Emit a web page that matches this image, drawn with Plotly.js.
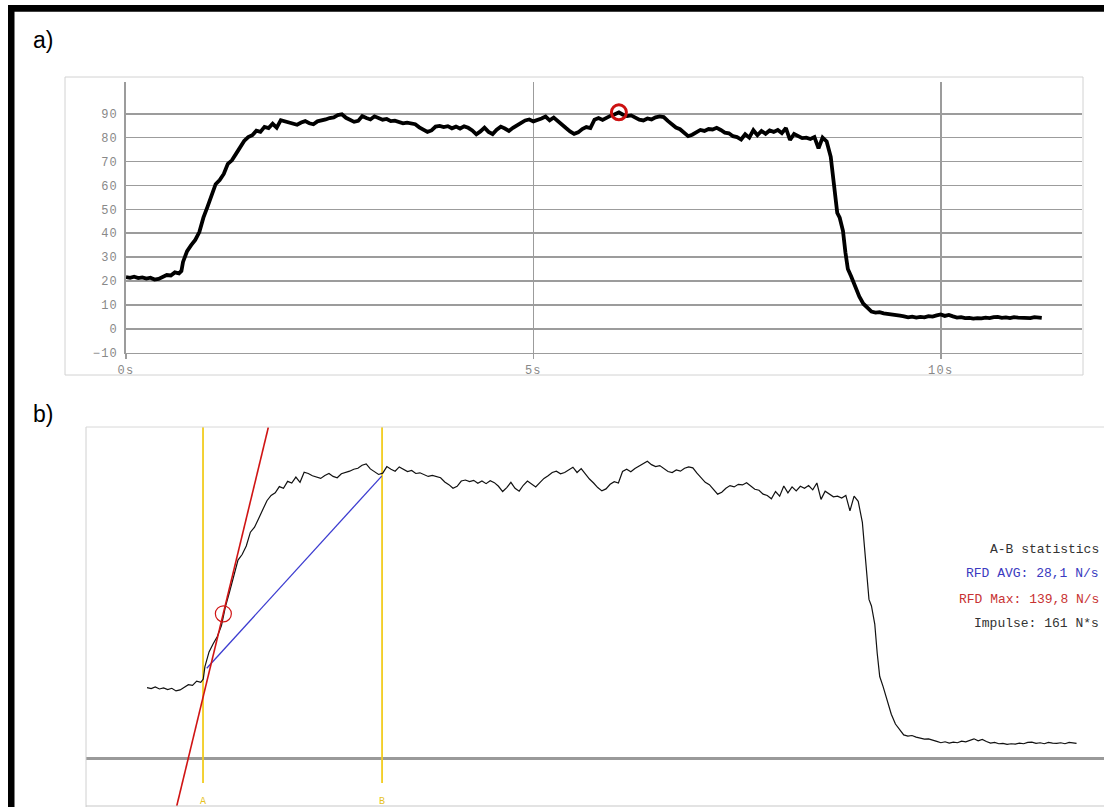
<!DOCTYPE html>
<html><head><meta charset="utf-8">
<script src="https://cdn.plot.ly/plotly-3.0.1.min.js"></script>
<style>
html,body{margin:0;padding:0;background:#fff;}
#chart{width:1104px;height:807px;}
.xtick text,.ytick text{letter-spacing:1.2px;}
</style></head><body><div id="chart"></div>
<script>
// ---- data ----
const time = [
 0,0.05,0.10,0.15,0.20,0.25,0.30,0.35,0.40,0.45,0.50,0.55,0.60,0.65,
 0.68,0.70,
 0.75,0.80,0.85,0.90,0.95,
 1.00,1.05,1.10,1.15,1.20,1.25,1.30,1.35,1.40,1.45,1.50,1.55,1.60,1.65,1.70,1.75,1.80,1.85,1.90,1.95,
 2.00,2.05,2.10,2.15,2.20,2.25,2.30,2.35,2.40,2.45,2.50,2.55,2.60,2.65,2.70,2.75,2.80,2.85,2.90,2.95,
 3.00,3.05,3.10,3.15,3.20,3.25,3.30,3.35,3.40,3.45,3.50,3.55,3.60,3.65,3.70,3.75,3.80,3.85,3.90,3.95,
 4.00,4.05,4.10,4.15,4.20,4.25,4.30,4.35,4.40,4.45,4.50,4.55,4.60,4.65,4.70,4.75,4.80,4.85,4.90,4.95,
 5.00,5.05,5.10,5.15,5.20,5.25,5.30,5.35,5.40,5.45,5.50,5.55,5.60,5.65,5.70,5.75,5.80,5.85,5.90,5.95,
 6.00,6.05,6.10,6.15,6.20,6.25,6.30,6.35,6.40,6.45,6.50,6.55,6.60,6.65,6.70,6.75,6.80,6.85,6.90,6.95,
 7.00,7.05,7.10,7.15,7.20,7.25,7.30,7.35,7.40,7.45,7.50,7.55,7.60,7.65,7.70,7.75,7.80,7.85,7.90,7.95,
 8.00,8.05,8.10,8.15,8.20,8.25,8.30,8.35,8.40,8.45,8.50,8.55,8.60,8.65,
 8.67,8.70,8.73,8.76,8.80,8.83,8.86,8.90,
 8.95,
 9.00,9.05,9.10,9.15,9.20,9.25,9.30,9.35,9.40,9.45,9.50,9.55,9.60,9.65,9.70,9.75,9.80,9.85,9.90,9.95,
 10.00,10.05,10.10,10.15,10.20,10.25,10.30,10.35,10.40,10.45,10.50,10.55,10.60,10.65,10.70,10.75,10.80,10.85,10.90,10.95,
 11.00,11.05,11.10,11.15,11.20,11.24
];
const force = [
 21.6,21.3,21.8,21.2,21.5,21.0,21.4,20.6,20.9,21.8,22.5,22.3,23.6,23.2,
 24.2,28.0,
 32.5,35.0,37.2,40.5,46.5,
 51.0,55.8,60.5,62.2,64.8,69.0,70.5,73.2,75.8,78.6,80.2,81.0,82.9,82.4,84.5,84.0,85.8,84.2,87.3,86.9,
 86.2,85.9,85.4,86.3,86.9,86.0,85.6,86.8,87.1,87.6,88.2,88.5,89.4,89.8,88.3,87.4,86.6,87.0,89.0,88.2,
 87.6,88.9,88.3,87.5,87.8,86.9,87.1,86.6,86.0,86.3,86.0,85.6,84.3,83.5,82.4,83.0,84.6,84.9,84.4,84.8,
 83.9,84.6,83.8,84.7,84.1,83.0,81.4,82.6,84.2,82.4,81.5,83.3,84.6,83.8,82.8,84.1,85.4,86.2,87.2,87.6,
 86.8,87.2,88.0,88.8,87.2,88.4,86.8,85.2,84.0,82.6,81.6,82.2,83.6,84.4,84.0,87.5,88.2,87.4,88.4,89.2,
 89.8,90.6,89.6,89.0,89.3,88.4,87.5,87.2,88.0,87.6,88.5,88.9,88.6,87.0,85.5,84.2,83.5,82.1,80.6,81.2,
 82.4,83.2,82.8,83.6,83.4,84.1,83.2,82.1,81.8,80.6,80.2,79.2,81.4,80.0,83.1,81.0,82.8,81.6,83.0,82.4,
 83.2,81.9,84.0,79.0,81.5,80.6,79.8,80.0,79.4,80.2,75.5,80.0,78.4,72.0,
 66.0,58.0,48.5,46.5,41.0,32.0,25.0,22.0,
 17.5,
 13.5,10.5,8.8,7.2,6.8,7.0,6.5,6.3,5.9,6.0,5.5,5.2,4.8,5.1,4.7,5.0,4.8,5.3,5.1,5.6,
 6.0,5.4,5.8,5.2,4.7,4.9,4.5,4.6,4.3,4.5,4.4,4.7,4.5,4.9,5.0,4.6,4.8,4.5,4.9,4.7,
 4.6,4.8,4.5,4.9,4.7,4.6
];
const xTickVals = [0, 5, 10];
const xTickText = ['0s', '5s', '10s'];
const yTickVals = [-10, 0, 10, 20, 30, 40, 50, 60, 70, 80, 90];
const markerATime = 0.677;
const markerBTime = 2.842;
const rfdAvgTime = [0.722, 2.838];
const rfdAvgForce = [27.5, 86.1];
const rfdMaxTime = [0.359, 1.467];
const rfdMaxForce = [-14.5, 101.0];
const rfdMaxPointTime = [0.923];
const rfdMaxPointForce = [44.1];
const statsText = ['A-B statistics', 'RFD AVG: 28,1 N/s', 'RFD Max: 139,8 N/s', 'Impulse: 161 N*s'];

// ---- layout helpers (pixel -> paper) ----
const W = 1104, H = 807;
const px = X => X / W;
const py = Y => 1 - Y / H;

let iMax = 0;
force.forEach((v, i) => { if (v > force[iMax]) iMax = i; });

const gridC = '#9c9c9c';
const tickFont = {family: 'Liberation Mono, DejaVu Sans Mono, monospace', size: 12, color: '#888888'};

const traces = [
  {x: time, y: force, xaxis: 'x', yaxis: 'y', mode: 'lines',
   line: {color: '#000', width: 3.8}, hoverinfo: 'skip'},
  {x: [time[iMax]], y: [force[iMax]], xaxis: 'x', yaxis: 'y', mode: 'markers',
   marker: {symbol: 'circle-open', size: 15, color: '#cc1111', line: {width: 3, color: '#cc1111'}}},
  {x: time, y: force, xaxis: 'x2', yaxis: 'y2', mode: 'lines',
   line: {color: '#111', width: 1.2}},
  {x: rfdAvgTime, y: rfdAvgForce, xaxis: 'x2', yaxis: 'y2', mode: 'lines',
   line: {color: '#3c3cd0', width: 1.3}},
  {x: rfdMaxTime, y: rfdMaxForce, xaxis: 'x2', yaxis: 'y2', mode: 'lines',
   line: {color: '#d01414', width: 1.6}},
  {x: rfdMaxPointTime, y: rfdMaxPointForce, xaxis: 'x2', yaxis: 'y2', mode: 'markers',
   marker: {symbol: 'circle-open', size: 16, color: '#d01414', line: {width: 1.2, color: '#d01414'}}}
];

const shapes = [
  {type: 'rect', xref: 'paper', yref: 'paper', x0: px(8), x1: 1.02, y0: py(11.7), y1: py(5),
   fillcolor: '#000', line: {width: 0}},
  {type: 'rect', xref: 'paper', yref: 'paper', x0: px(8), x1: px(14.5), y0: -0.02, y1: py(5),
   fillcolor: '#000', line: {width: 0}},
  {type: 'rect', xref: 'paper', yref: 'paper', x0: px(65), x1: px(1083), y0: py(375), y1: py(77),
   line: {color: '#d2d2d2', width: 1}, layer: 'below'},
  {type: 'line', xref: 'paper', yref: 'paper', x0: px(86), x1: px(86), y0: 0, y1: py(427),
   line: {color: '#d0d0d0', width: 1}},
  {type: 'line', xref: 'paper', yref: 'paper', x0: px(86), x1: 1, y0: py(427), y1: py(427),
   line: {color: '#d8d8d8', width: 1}},
  {type: 'line', xref: 'paper', yref: 'paper', x0: px(86), x1: 1, y0: py(806), y1: py(806),
   line: {color: '#c8c8c8', width: 1.2}},
  {type: 'line', xref: 'paper', yref: 'y2', x0: px(86), x1: 1, y0: 0, y1: 0,
   line: {color: '#9a9a9a', width: 3}, layer: 'below'},
  {type: 'line', xref: 'x2', yref: 'paper', x0: markerATime, x1: markerATime, y0: py(783), y1: py(427),
   line: {color: '#f2cc1f', width: 1.8}, layer: 'below'},
  {type: 'line', xref: 'x2', yref: 'paper', x0: markerBTime, x1: markerBTime, y0: py(783), y1: py(427),
   line: {color: '#f2cc1f', width: 1.8}, layer: 'below'}
];

const monoFam = 'Courier New, Liberation Mono, DejaVu Sans Mono, monospace';
const statColors = ['#333333', '#3a3ac0', '#c83232', '#333333'];
const statY = [549, 573.5, 599, 623.5];
const annotations = [
  {text: 'a)', xref: 'paper', yref: 'paper', x: px(31), y: py(40), xanchor: 'left', yanchor: 'middle',
   showarrow: false, font: {family: 'Liberation Sans, Arial, sans-serif', size: 23, color: '#000'}},
  {text: 'b)', xref: 'paper', yref: 'paper', x: px(31), y: py(414), xanchor: 'left', yanchor: 'middle',
   showarrow: false, font: {family: 'Liberation Sans, Arial, sans-serif', size: 23, color: '#000'}},
  {text: 'A', xref: 'x2', yref: 'paper', x: markerATime, y: py(801), xanchor: 'center', yanchor: 'middle',
   showarrow: false, font: {family: monoFam, size: 10, color: '#e6c21c'}},
  {text: 'B', xref: 'x2', yref: 'paper', x: markerBTime, y: py(801), xanchor: 'center', yanchor: 'middle',
   showarrow: false, font: {family: monoFam, size: 10, color: '#e6c21c'}}
];
statsText.forEach((s, i) => annotations.push({
  text: s, xref: 'paper', yref: 'paper', x: px(1101), y: py(statY[i]), xanchor: 'right', yanchor: 'middle',
  showarrow: false, font: {family: monoFam, size: 13, color: statColors[i]}
}));

const layout = {
  width: W, height: H, autosize: false,
  margin: {l: 0, r: 0, t: 0, b: 0, pad: 0},
  paper_bgcolor: '#fff', plot_bgcolor: 'rgba(0,0,0,0)',
  showlegend: false,
  xaxis: {domain: [px(126), px(1082)], range: [0, 11.734], anchor: 'y',
    tickvals: xTickVals, ticktext: xTickText, showgrid: true, gridcolor: gridC, gridwidth: 1.6,
    ticks: 'outside', ticklen: 5, tickwidth: 1.6, tickcolor: gridC,
    showline: true, linecolor: gridC, linewidth: 1.6, zeroline: false, tickfont: tickFont, fixedrange: true},
  yaxis: {domain: [py(352.7), py(81.7)], range: [-10, 103.4], anchor: 'x',
    tickvals: yTickVals, showgrid: true, gridcolor: gridC, gridwidth: 1.6,
    ticks: '', showline: true, linecolor: gridC, linewidth: 1.6, zeroline: false,
    tickfont: tickFont, ticklabelstandoff: 4, fixedrange: true},
  xaxis2: {domain: [px(86), 1], range: [-0.738, 11.572], anchor: 'y2', visible: false, fixedrange: true},
  yaxis2: {domain: [0, py(427)], range: [-14.79, 101.07], anchor: 'x2', visible: false, fixedrange: true},
  shapes: shapes,
  annotations: annotations
};

Plotly.newPlot('chart', traces, layout, {staticPlot: true, displayModeBar: false});
</script></body></html>
